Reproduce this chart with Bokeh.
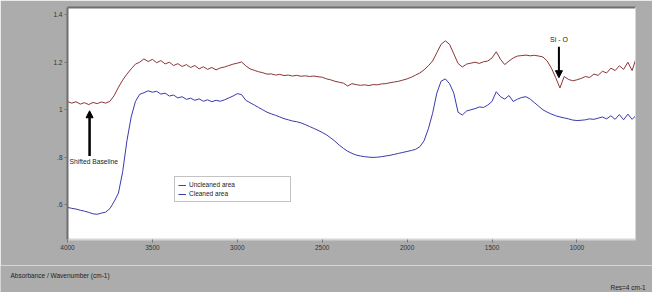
from bokeh.plotting import figure
from bokeh.layouts import column
from bokeh.models import (Range1d, FixedTicker, Label, Arrow, NormalHead, Legend,
                          LegendItem, LinearAxis)
from bokeh.embed import file_html
from bokeh.resources import INLINE

# wavenumber grid (cm-1), 4000 -> 650, step 25
wavenumber = list(range(4000, 649, -25))

uncleaned = [
    1.035, 1.028, 1.034, 1.024, 1.030, 1.022, 1.031, 1.026, 1.033, 1.028,
    1.036, 1.060, 1.095, 1.125, 1.150, 1.172, 1.192, 1.200, 1.214, 1.203,
    1.212, 1.198, 1.207, 1.193, 1.200, 1.186, 1.194, 1.182, 1.190, 1.178,
    1.186, 1.172, 1.181, 1.170, 1.178, 1.168, 1.176, 1.180, 1.186, 1.192,
    1.196, 1.201, 1.185, 1.172, 1.166, 1.160, 1.156, 1.150, 1.151, 1.146,
    1.149, 1.144, 1.146, 1.142, 1.145, 1.141, 1.143, 1.140, 1.142, 1.139,
    1.137, 1.130, 1.126, 1.120, 1.116, 1.112, 1.100, 1.110, 1.106, 1.103,
    1.105, 1.102, 1.106, 1.105, 1.109, 1.110, 1.114, 1.117, 1.120, 1.125,
    1.130, 1.137, 1.146, 1.155, 1.168, 1.185, 1.205, 1.240, 1.275, 1.290,
    1.275, 1.235, 1.195, 1.180, 1.192, 1.196, 1.200, 1.195, 1.202, 1.205,
    1.218, 1.244, 1.212, 1.190, 1.205, 1.218, 1.226, 1.228, 1.230, 1.227,
    1.229, 1.226, 1.222, 1.205, 1.175, 1.135, 1.092, 1.140, 1.128, 1.122,
    1.126, 1.132, 1.140, 1.136, 1.150, 1.145, 1.162, 1.155, 1.175, 1.165,
    1.185, 1.170, 1.200, 1.165, 1.220,
]

cleaned = [
    0.590, 0.586, 0.583, 0.578, 0.574, 0.569, 0.563, 0.561, 0.566, 0.570,
    0.585, 0.615, 0.650, 0.740, 0.870, 0.970, 1.035, 1.065, 1.072, 1.080,
    1.074, 1.078, 1.066, 1.070, 1.058, 1.062, 1.050, 1.055, 1.044, 1.049,
    1.040, 1.046, 1.036, 1.042, 1.034, 1.040, 1.036, 1.042, 1.050, 1.058,
    1.068, 1.064, 1.040, 1.030, 1.020, 1.010, 1.000, 0.990, 0.983, 0.977,
    0.970, 0.963, 0.958, 0.953, 0.950, 0.945, 0.938, 0.930, 0.922, 0.914,
    0.905, 0.895, 0.882, 0.868, 0.852, 0.838, 0.826, 0.817, 0.810, 0.806,
    0.803, 0.801, 0.800, 0.801, 0.803, 0.806, 0.809, 0.813, 0.817, 0.821,
    0.825, 0.829, 0.834, 0.845, 0.870, 0.920, 0.985, 1.070, 1.120, 1.130,
    1.110, 1.070, 0.990, 0.978, 0.995, 1.000, 1.005, 1.012, 1.010, 1.020,
    1.035, 1.076, 1.055, 1.045, 1.060, 1.035, 1.045, 1.052, 1.055, 1.045,
    1.030, 1.015, 1.000, 0.990, 0.982, 0.975, 0.970, 0.966, 0.962, 0.957,
    0.955, 0.956, 0.958, 0.962, 0.960, 0.965, 0.970, 0.962, 0.975, 0.960,
    0.980, 0.958, 0.982, 0.960, 0.978,
]

x_ticks = [4000, 3500, 3000, 2500, 2000, 1500, 1000]
y_ticks = [0.6, 0.8, 1.0, 1.2, 1.4]
y_tick_labels = {0.6: ".6", 0.8: ".8", 1.0: "1", 1.2: "1.2", 1.4: "1.4"}
series_names = ["Uncleaned area", "Cleaned area"]
series_colors = ["#8b3535", "#3a3aab"]
footer_left = "Absorbance / Wavenumber (cm-1)"
footer_right = "Res=4 cm-1"

FONT = "Liberation Sans"
GRAY = "#acacac"

p = figure(width=652, height=265,
           x_range=Range1d(4000, 655), y_range=Range1d(0.455, 1.43),
           output_backend="svg", toolbar_location=None,
           min_border_left=67, min_border_right=17,
           min_border_top=7, min_border_bottom=26,
           background_fill_color="white", border_fill_color=GRAY,
           outline_line_color=None)
p.frame_align = False
p.xgrid.visible = False
p.ygrid.visible = False

r_u = p.line(wavenumber, uncleaned, line_color=series_colors[0], line_width=1)
r_c = p.line(wavenumber, cleaned, line_color=series_colors[1], line_width=1)

for ax in (p.xaxis[0], p.yaxis[0]):
    ax.major_label_text_font = FONT
    ax.major_label_text_font_size = "6.5px"
    ax.major_label_text_color = "#333333"
    ax.major_tick_line_color = "#777777"
    ax.major_tick_in = 0
    ax.major_tick_out = 3
    ax.minor_tick_line_color = None

p.xaxis.ticker = FixedTicker(ticks=x_ticks)
p.xaxis.axis_line_color = "#d6d6d6"
p.xaxis.axis_line_width = 2
p.xaxis.major_label_standoff = 2

p.yaxis.ticker = FixedTicker(ticks=y_ticks)
p.yaxis.major_label_overrides = y_tick_labels
p.yaxis.axis_line_color = "#6e6e6e"
p.yaxis.axis_line_width = 2
p.yaxis.major_label_standoff = 2

top_ax = LinearAxis(ticker=FixedTicker(ticks=[]), axis_line_color="#6e6e6e",
                    axis_line_width=2, major_tick_line_color=None,
                    minor_tick_line_color=None)
p.add_layout(top_ax, "above")
right_ax = LinearAxis(ticker=FixedTicker(ticks=[]), axis_line_color="#d6d6d6",
                      axis_line_width=1, major_tick_line_color=None,
                      minor_tick_line_color=None)
p.add_layout(right_ax, "right")

legend = Legend(items=[LegendItem(label=series_names[0], renderers=[r_u]),
                       LegendItem(label=series_names[1], renderers=[r_c])],
                location=(107, 37), margin=0, padding=3, spacing=0,
                glyph_width=8, glyph_height=8, label_height=9,
                label_width=98, label_standoff=3,
                label_text_font=FONT, label_text_font_size="6.5px",
                label_text_color="#222222",
                border_line_color="#888888", border_line_width=1,
                background_fill_color="white", background_fill_alpha=1)
p.add_layout(legend)

# annotations
p.add_layout(Label(x=3988, y=0.781, text="Shifted Baseline", text_font=FONT,
                   text_font_size="6.7px", text_color="#222222",
                   text_baseline="middle"))
p.add_layout(Arrow(x_start=3870, y_start=0.806, x_end=3870, y_end=0.996,
                   line_width=2.5, line_color="black",
                   end=NormalHead(size=7, fill_color="black", line_color="black")))
p.add_layout(Label(x=1106, y=1.295, text="Si - O", text_font=FONT,
                   text_font_size="7px", text_color="#222222",
                   text_align="center", text_baseline="middle"))
p.add_layout(Arrow(x_start=1106, y_start=1.265, x_end=1106, y_end=1.135,
                   line_width=2, line_color="black",
                   end=NormalHead(size=7, fill_color="black", line_color="black")))

# footer strip with the two captions
f = figure(width=652, height=27, output_backend="svg", toolbar_location=None,
           x_axis_type=None, y_axis_type=None,
           min_border_left=0, min_border_right=0,
           min_border_top=0, min_border_bottom=0,
           background_fill_color=GRAY, border_fill_color=GRAY,
           outline_line_color=None)
f.frame_align = False
f.xgrid.visible = False
f.ygrid.visible = False
f.add_layout(Label(x=10, y=17, x_units="screen", y_units="screen",
                   text=footer_left, text_font=FONT, text_font_size="6.5px",
                   text_color="#222222", text_baseline="middle"))
f.add_layout(Label(x=610, y=5, x_units="screen", y_units="screen",
                   text=footer_right, text_font=FONT, text_font_size="6.5px",
                   text_color="#222222", text_baseline="middle"))

layout = column(p, f, spacing=0)
open("out.html", "w").write(file_html(layout, INLINE))
